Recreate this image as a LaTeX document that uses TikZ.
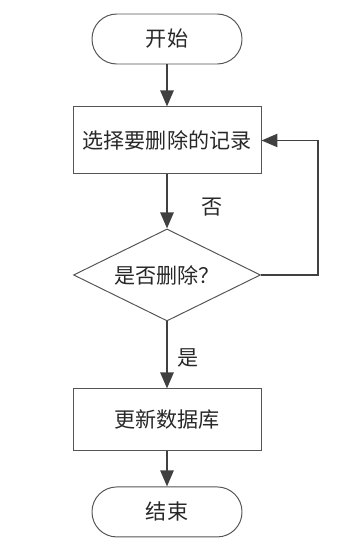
\documentclass[tikz,border=0pt]{standalone}
\usepackage{fontspec}
\newfontfamily\cjk{Noto Sans CJK SC}
\usetikzlibrary{arrows.meta,positioning,shapes.geometric}
\definecolor{edge}{RGB}{64,64,64}
\definecolor{rim}{RGB}{85,85,85}
\definecolor{ink}{RGB}{40,40,40}
\tikzset{
  term/.style={draw=rim, line width=0.7pt, rounded corners=0.62cm, text=ink,
               minimum width=3.75cm, minimum height=1.25cm, font=\cjk\fontsize{15}{17}\selectfont},
  proc/.style={draw=rim, line width=0.7pt, minimum width=4.7cm, text=ink,
               font=\cjk\fontsize{15}{17}\selectfont},
  test/.style={draw=rim, line width=0.7pt, diamond, inner sep=0pt, aspect=2, text=ink,
               minimum width=4.675cm, minimum height=2.3cm, font=\cjk\fontsize{15}{17}\selectfont},
  flow/.style={-{Triangle[length=4mm,width=3.3mm]}, edge, line width=1.4pt},
  tag/.style={text=ink, font=\cjk\fontsize{15}{17}\selectfont},
}
\begin{document}
\begin{tikzpicture}
  \useasboundingbox (0,0) rectangle (8.675,-13.625);
  \node[term] (start) at (4.175,-0.975) {开始};
  \node[proc, minimum height=1.675cm, below=1.05cm of start] (pick) {选择要删除的记录};
  \node[test, below=1.35cm of pick] (ask) {是否删除？};
  \node[proc, minimum height=1.55cm, below=1.675cm of ask] (save) {更新数据库};
  \node[term, below=0.875cm of save] (stop) {结束};
  \coordinate (turn) at ([xshift=1.425cm]ask.east);
  % arrows
  \draw[flow] (start) -- (pick);
  \draw[flow] (pick) -- (ask);
  \draw[flow] (ask) -- (save);
  \draw[flow] (save) -- (stop);
  \draw[flow] (ask.east) -- (turn) |- (pick.east);
  \node[tag] (no) at (5.3,-5.175) {否};
  \node[tag] (yes) at (4.7,-8.95) {是};
\end{tikzpicture}
\end{document}
